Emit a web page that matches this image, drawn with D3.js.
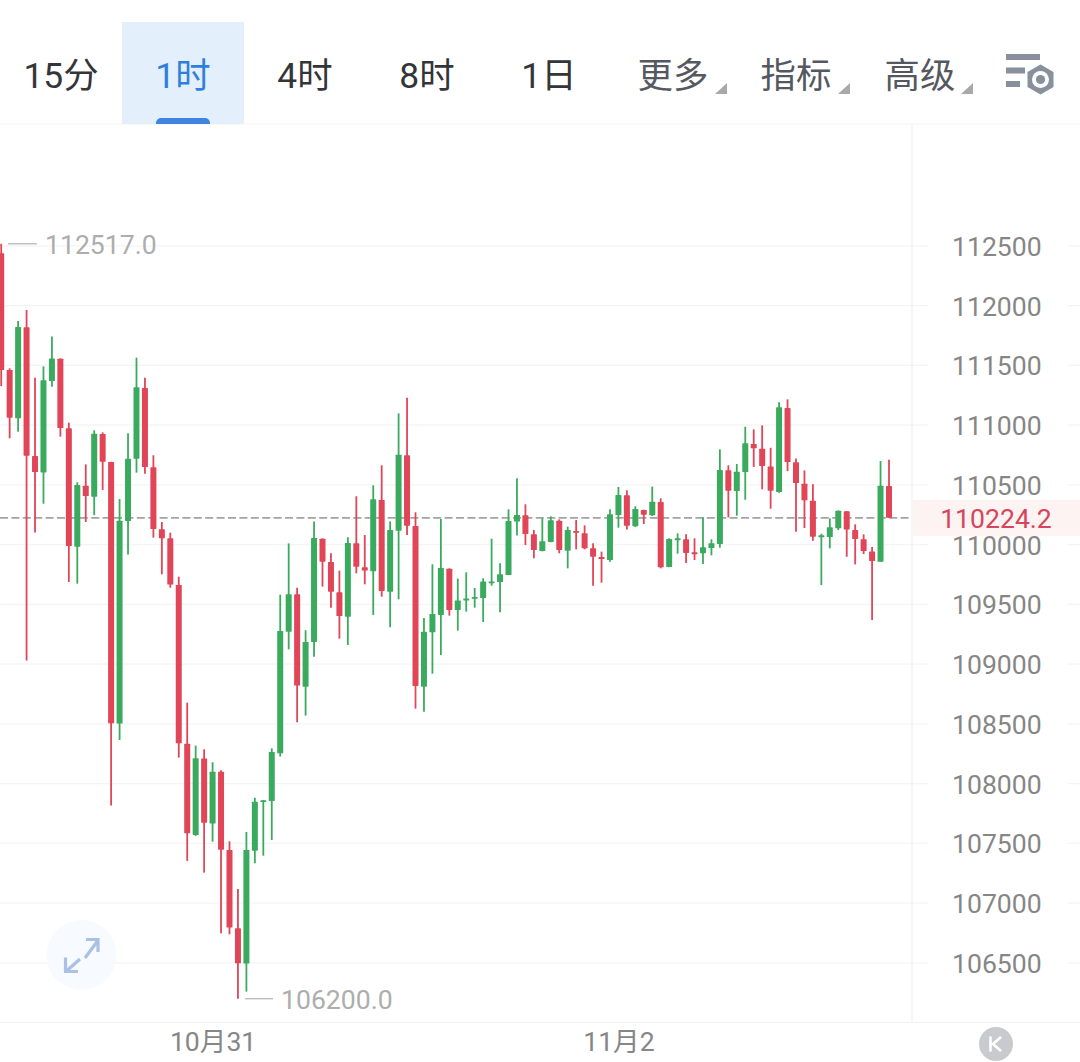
<!DOCTYPE html>
<html><head><meta charset="utf-8">
<script src="https://d3js.org/d3.v7.min.js"></script>
<style>html,body{margin:0;padding:0;background:#fff;overflow:hidden}svg{display:block}
text{font-family:Roboto,"Noto Sans CJK SC",sans-serif}</style></head><body>
<svg id="c" width="1080" height="1062"></svg>
<script>
const opens=[112437,111461,111056,111818,110741,110604,111369,111555,110973,109982,110493,110401,110925,110691,108502,110197,110719,111310,110646,110128,110052,109662,108334,107570,108209,107665,108100,107445,106789,106494,107439,107855,107855,108253,109271,109584,108811,109185,110049,109854,109600,109397,110010,109810,109776,110373,109606,110116,110747,110155,108811,109266,109411,109798,109453,109536,109548,109553,109681,109687,109745,110192,110245,110086,109946,110022,110200,109949,110114,110094,109969,109896,109871,110247,110412,110153,110289,110245,110356,109812,110038,110044,109935,109927,109971,110005,110621,110448,110607,110841,110802,110654,110440,111142,110688,110509,110367,110063,110063,110136,110278,110122,110044,109943,109857,110490];
const closes=[111461,111062,111820,110744,110607,111374,111558,110975,109988,110498,110406,110928,110694,108504,110200,110719,111316,110649,110130,110052,109665,108337,107584,108212,107673,108100,107447,106795,106496,107445,107849,107860,108265,109277,109584,108820,109185,110055,109857,109606,109402,110013,109815,109782,110379,109612,110122,110752,110158,108817,109271,109419,109804,109453,109531,109548,109561,109692,109692,109751,110197,110247,110088,109955,110027,110203,109955,110122,110100,109969,109899,109879,110253,110415,110158,110298,110250,110359,109810,110047,110052,109930,109921,109977,110010,110624,110451,110610,110847,110805,110657,110451,111148,110691,110515,110370,110066,110077,110144,110283,110127,110046,109946,109862,110493,110224];
const highs=[112517,111475,111871,111963,111396,111491,111742,111558,111020,110521,110671,110956,110939,110694,110381,110931,111564,111396,110747,110189,110100,109731,108677,108318,108287,108178,108111,107517,107118,107595,107882,107863,108295,109581,110010,109639,109283,110194,110052,109927,109782,110061,110404,110080,110496,110663,110194,111098,111229,110270,109386,109835,110214,109801,109715,109768,109637,109718,110049,109843,110295,110554,110337,110122,110220,110236,110211,110150,110206,110161,110010,109941,110295,110482,110454,110320,110292,110485,110387,110052,110094,110086,110052,110228,110044,110797,110663,110674,110986,110964,110997,110810,111190,111215,110721,110621,110504,110091,110219,110286,110281,110169,110085,109979,110699,110710];
const lows=[111327,110889,110945,109029,110100,110342,111321,110903,109687,109673,110189,110247,110457,107816,108365,109916,110602,110593,110058,109751,109639,108217,107353,107562,107255,107514,106747,106739,106200,106259,107333,107397,107528,108226,109123,108513,108569,109062,109648,109472,109213,109160,109759,109667,109411,109564,109308,109542,110080,108627,108602,108920,109076,109405,109280,109439,109472,109352,109656,109433,109745,110075,109996,109885,109943,110019,109927,109801,109960,109960,109656,109681,109857,110141,110125,110147,110172,110239,109801,109810,109924,109846,109871,109837,109910,109974,110228,110242,110375,110649,110462,110300,110434,110615,110108,110138,110032,109661,109968,110122,109898,109834,109921,109369,109857,110224];
const priceTicks=[106500,107000,107500,108000,108500,109000,109500,110000,110500,111000,111500,112000,112500];
const dateTickIndex=[25,73];
const dateTickLabels=["10月31","11月2"];
const navLabels=["15分","1时","4时","8时","1日","更多","指标","高级"];
const lastPrice=110224.2, maxPrice=112517.0, minPrice=106200.0;

const svg=d3.select("#c");
const RED="#e04558",GREEN="#3aab5e";
const plotR=912, plotT=124, plotB=1022.5;
const y=d3.scaleLinear().domain([106000,112500]).range([1022.6,245.8]);
const x=d3.scaleLinear().domain([0,105]).range([1.2,889]);

// Grid
svg.append("g").selectAll("line").data(priceTicks).join("line")
  .attr("x1",0).attr("x2",1080).attr("y1",d=>y(d)).attr("y2",d=>y(d))
  .attr("stroke","#f4f4f5").attr("stroke-width",1.2);
svg.append("line").attr("x1",0).attr("x2",1080).attr("y1",plotT).attr("y2",plotT).attr("stroke","#f3f3f4").attr("stroke-width",1.2);
svg.append("line").attr("x1",0).attr("x2",1080).attr("y1",plotB).attr("y2",plotB).attr("stroke","#f3f3f4").attr("stroke-width",1.2);
svg.append("line").attr("x1",plotR).attr("x2",plotR).attr("y1",plotT).attr("y2",plotB).attr("stroke","#f3f3f4").attr("stroke-width",1.4);

// Blank the grid behind labels
svg.append("rect").attr("x",928).attr("y",plotT+1).attr("width",140).attr("height",plotB-plotT-2).attr("fill","#fff");

// Last-price band
svg.append("rect").attr("x",plotR+1).attr("width",168).attr("y",y(lastPrice)-18).attr("height",36).attr("fill","#fdf3f2");

// Y axis
const yAxis=svg.append("g").attr("transform",`translate(${plotR},0)`)
  .call(d3.axisRight(y).tickValues(priceTicks).tickSize(0).tickPadding(40).tickFormat(d3.format("d")));
yAxis.select(".domain").remove();
yAxis.selectAll("text").attr("fill","#868686").style("font-size","26.6px").style("font-family",'Roboto,sans-serif').attr("dy","0.36em");

// Dashed last-price line
svg.append("line").attr("x1",0).attr("x2",plotR).attr("y1",y(lastPrice)).attr("y2",y(lastPrice))
  .attr("stroke","#a3a3a3").attr("stroke-width",1.7).attr("stroke-dasharray","8 3.4");

// Candles
const idx=d3.range(opens.length);
const col=i=>closes[i]<opens[i]?RED:GREEN;
svg.append("g").selectAll("line").data(idx).join("line")
  .attr("x1",i=>x(i)).attr("x2",i=>x(i)).attr("y1",i=>y(highs[i])).attr("y2",i=>y(lows[i]))
  .attr("stroke",col).attr("stroke-width",1.8);
svg.append("g").selectAll("rect").data(idx).join("rect")
  .attr("x",i=>x(i)-3).attr("width",6)
  .attr("y",i=>y(Math.max(opens[i],closes[i])))
  .attr("height",i=>Math.max(1.8,Math.abs(y(opens[i])-y(closes[i]))))
  .attr("rx",0.6).attr("fill",col);

// Max/min markers
const mark=(x1,x2,tx,p,s)=>{
  svg.append("line").attr("x1",x1).attr("x2",x2).attr("y1",y(p)).attr("y2",y(p)).attr("stroke","#bdbdbd").attr("stroke-width",1.4);
  svg.append("text").attr("x",tx).attr("y",y(p)+1).attr("dy","0.36em").attr("fill","#adadad").style("font-size","26.6px").text(s);
};
mark(8,37,45,maxPrice,d3.format(".1f")(maxPrice));
mark(245,273,281,minPrice,d3.format(".1f")(minPrice));

// Last price label
svg.append("text").attr("x",996).attr("y",y(lastPrice)+1).attr("dy","0.36em").attr("text-anchor","middle")
  .attr("fill","#d5455c").style("font-size","26.6px").text(d3.format(".1f")(lastPrice));

// X axis
const xAxis=svg.append("g").attr("transform",`translate(0,${plotB})`)
  .call(d3.axisBottom(x).tickValues(dateTickIndex).tickSize(0).tickPadding(10).tickFormat((d,i)=>dateTickLabels[i]));
xAxis.select(".domain").remove();
xAxis.selectAll("text").attr("fill","#868686").style("font-size","26.6px").style("font-family",'Roboto,"Noto Sans CJK SC",sans-serif');

// Toolbar
svg.append("rect").attr("x",122).attr("y",22).attr("width",122).attr("height",102).attr("fill","#e4effc");
svg.append("path").attr("d","M156 124v-1a5 5 0 0 1 5-5h44a5 5 0 0 1 5 5v1z").attr("fill","#3f84e0");
const navX=[61,183,305,427,549,673,796,920];
svg.append("g").selectAll("text").data(navLabels).join("text")
  .attr("x",(d,i)=>navX[i]).attr("y",75).attr("dy","0.36em").attr("text-anchor","middle")
  .attr("fill",(d,i)=>i===1?"#2f7fdf":i>4?"#55595f":"#333538")
  .style("font-size","35.4px").text(d=>d);
[727,850,973].forEach(r=>{
  svg.append("path").attr("d",`M${r} 83V94H${r-12}Z`).attr("fill","#a9a9a9");
});

// Settings icon
const ic=svg.append("g").attr("fill","#87909c");
ic.append("rect").attr("x",1006).attr("y",54).attr("width",34).attr("height",6);
ic.append("rect").attr("x",1006).attr("y",67.5).attr("width",19).attr("height",6);
ic.append("rect").attr("x",1006).attr("y",81).attr("width",14).attr("height",6);
const hex=d3.range(6).map(k=>{const a=Math.PI/3*k-Math.PI/2;return [1040.5+15*Math.cos(a),79.5+15*Math.sin(a)];});
ic.append("path").attr("d",d3.line()(hex)+"Z");
svg.append("circle").attr("cx",1040.5).attr("cy",79.5).attr("r",8.5).attr("fill","#fff");
svg.append("circle").attr("cx",1040.5).attr("cy",79.5).attr("r",4.6).attr("fill","#87909c");

// Expand button
svg.append("circle").attr("cx",81.5).attr("cy",955).attr("r",35).attr("fill","#f7fafe");
svg.append("path").attr("d","M85 958L97.5 941M86 939.5H98V952M67 970.5L80 959M65.5 957.5V971.5H78")
  .attr("fill","none").attr("stroke","#a9c1e6").attr("stroke-width",3.2);

// K button
svg.append("circle").attr("cx",996).attr("cy",1044).attr("r",17).attr("fill","#c9cacd");
svg.append("path").attr("d","M990.5 1036.5V1051.5M1001 1037L993 1044L1001 1051").attr("fill","none").attr("stroke","#fff").attr("stroke-width",2.6);
</script></body></html>
